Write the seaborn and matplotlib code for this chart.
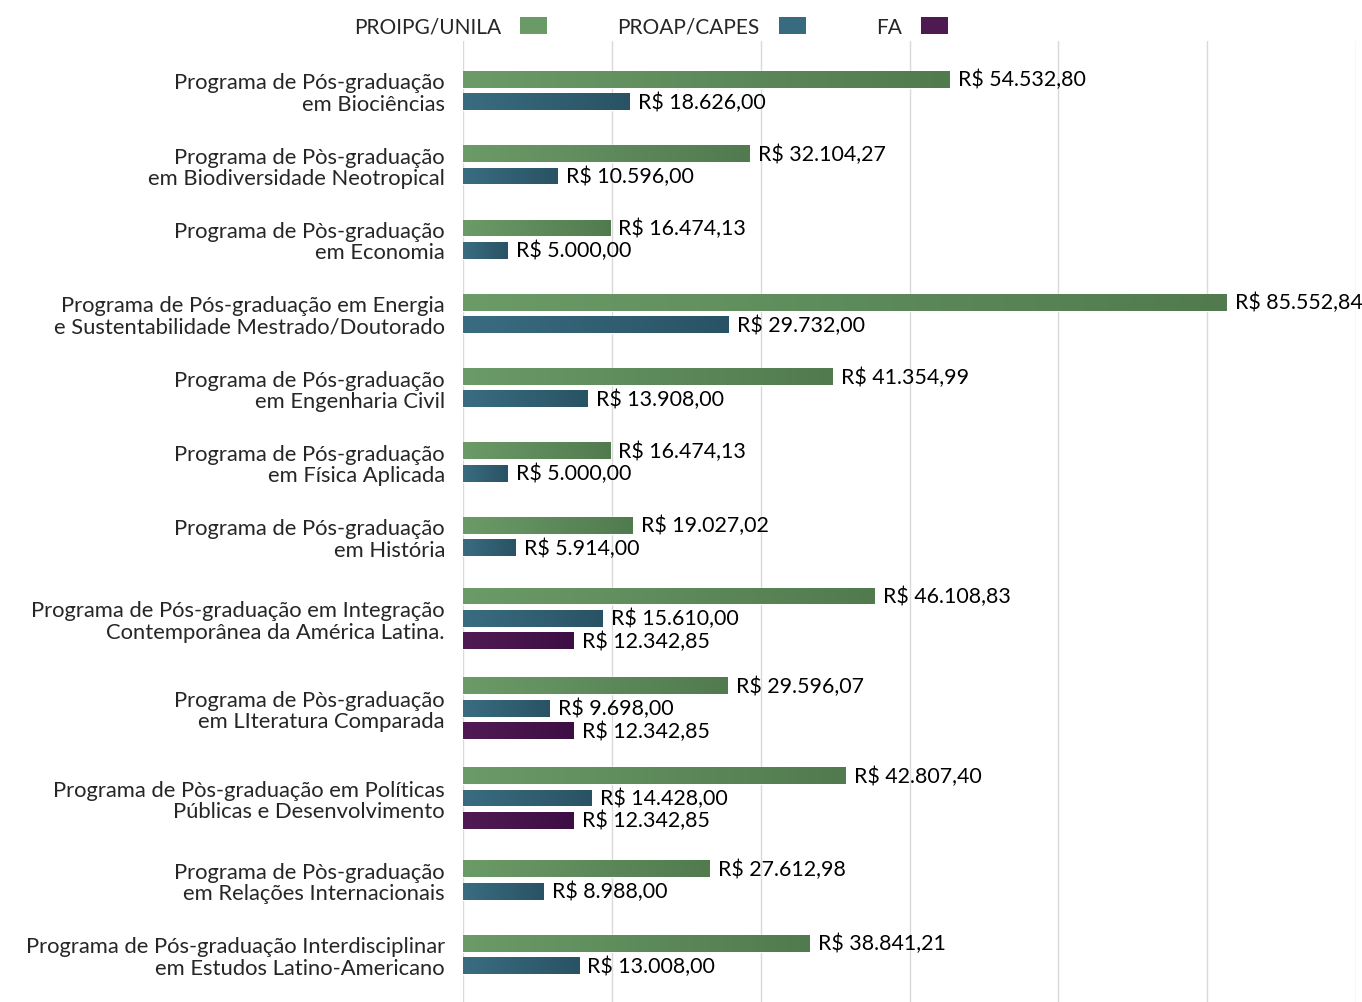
import pandas as pd
import numpy as np
import matplotlib.pyplot as plt
import matplotlib.colors as mcolors
import seaborn as sns
from matplotlib.colors import LinearSegmentedColormap
from matplotlib.patches import Patch

# Programas (rótulos em duas linhas, como no original)
programas = [
    "Programa de Pós-graduação\nem Biociências",
    "Programa de Pòs-graduação\nem Biodiversidade Neotropical",
    "Programa de Pòs-graduação\nem Economia",
    "Programa de Pós-graduação em Energia\ne Sustentabilidade Mestrado/Doutorado",
    "Programa de Pós-graduação\nem Engenharia Civil",
    "Programa de Pós-graduação\nem Física Aplicada",
    "Programa de Pós-graduação\nem História",
    "Programa de Pós-graduação em Integração\nContemporânea da América Latina.",
    "Programa de Pòs-graduação\nem LIteratura Comparada",
    "Programa de Pòs-graduação em Políticas\nPúblicas e Desenvolvimento",
    "Programa de Pòs-graduação\nem Relações Internacionais",
    "Programa de Pós-graduação Interdisciplinar\nem Estudos Latino-Americano",
]
proipg_unila = [54532.80, 32104.27, 16474.13, 85552.84, 41354.99, 16474.13,
                19027.02, 46108.83, 29596.07, 42807.40, 27612.98, 38841.21]
proap_capes = [18626.00, 10596.00, 5000.00, 29732.00, 13908.00, 5000.00,
               5914.00, 15610.00, 9698.00, 14428.00, 8988.00, 13008.00]
fa = [None, None, None, None, None, None,
      None, 12342.85, 12342.85, 12342.85, None, None]

fontes = ["PROIPG/UNILA", "PROAP/CAPES", "FA"]
cores = {"PROIPG/UNILA": "#6a9a66", "PROAP/CAPES": "#386a80", "FA": "#4e1a52"}
gradientes = {
    "PROIPG/UNILA": ("#6b9b67", "#517b4f"),
    "PROAP/CAPES": ("#3a6c81", "#295364"),
    "FA": ("#501b54", "#3d0e44"),
}

# Layout vertical (unidades = pixels da figura, de cima para baixo)
passo = 22.3
meia_faixa = {2: 37.15, 3: 44.9}
primeiro_centro = 91.5

linhas = []
centros = []
c = None
anterior = None
for i, prog in enumerate(programas):
    vals = [proipg_unila[i], proap_capes[i], fa[i]]
    n = sum(v is not None for v in vals)
    if c is None:
        c = primeiro_centro
    else:
        c = c + meia_faixa[anterior] + meia_faixa[n]
    anterior = n
    centros.append(c)
    k = 0
    for fonte, v in zip(fontes, vals):
        if v is None:
            continue
        pos = c + (k - (n - 1) / 2) * passo
        linhas.append({"programa": prog, "fonte": fonte, "valor": v, "pos": pos})
        k += 1

df = pd.DataFrame(linhas)

sns.set_theme(style="white")
plt.rcParams["font.family"] = ["Lato", "DejaVu Sans"]

fig = plt.figure(figsize=(13.62, 10.03), dpi=100)
ax = fig.add_axes([463 / 1362, 0, (1356 - 463) / 1362, 1 - 42 / 1003])

sns.barplot(data=df, x="valor", y="pos", hue="fonte", hue_order=fontes,
            orient="h", native_scale=True, dodge=False, width=0.75,
            palette=cores, legend=False, ax=ax, zorder=2)


def fonte_da_cor(cor):
    rgb = np.array(cor[:3])
    return min(cores, key=lambda f: np.abs(np.array(mcolors.to_rgb(cores[f])) - rgb).sum())


# Gradiente horizontal em cada barra
for patch in list(ax.patches):
    fonte = fonte_da_cor(patch.get_facecolor())
    claro, escuro = gradientes[fonte]
    cmap = LinearSegmentedColormap.from_list("g", [claro, escuro])
    x0, y0 = patch.get_x(), patch.get_y()
    w, h = patch.get_width(), patch.get_height()
    img = ax.imshow(np.linspace(0, 1, 256).reshape(1, -1), cmap=cmap,
                    extent=[x0, x0 + w, y0, y0 + h], aspect="auto",
                    zorder=2.5, interpolation="bilinear")
    img.set_clip_path(patch)


def brl(v):
    s = f"{v:,.2f}"
    return "R$ " + s.replace(",", "X").replace(".", ",").replace("X", ".")


for cont in ax.containers:
    ax.bar_label(cont, fmt=brl, padding=6, fontsize=15.4, color="black", zorder=3)

ax.set_xlim(0, 100000)
ax.set_ylim(1003, 42)
ax.set_xticks(np.linspace(0, 100000, 7))
ax.set_xticklabels([])
ax.grid(axis="x", color="#d9d9d9", linewidth=1, zorder=0)
ax.set_axisbelow(True)
ax.set_yticks(centros)
ax.set_yticklabels(programas, fontsize=15.8, ha="right", linespacing=1.08)
ax.tick_params(axis="y", length=0, pad=13)
ax.tick_params(axis="x", length=0)
ax.set_xlabel("")
ax.set_ylabel("")
for s in ax.spines.values():
    s.set_visible(False)

handles = [Patch(facecolor=cores[f], edgecolor="none", label=f) for f in fontes]
fig.legend(handles=handles, loc="center", bbox_to_anchor=(651 / 1362, 1 - 28 / 1003),
           ncol=3, frameon=False, fontsize=15, markerfirst=False,
           handlelength=1.3, handleheight=0.85, handletextpad=0.9,
           columnspacing=3.4)

fig.savefig("out.png", dpi=100)
